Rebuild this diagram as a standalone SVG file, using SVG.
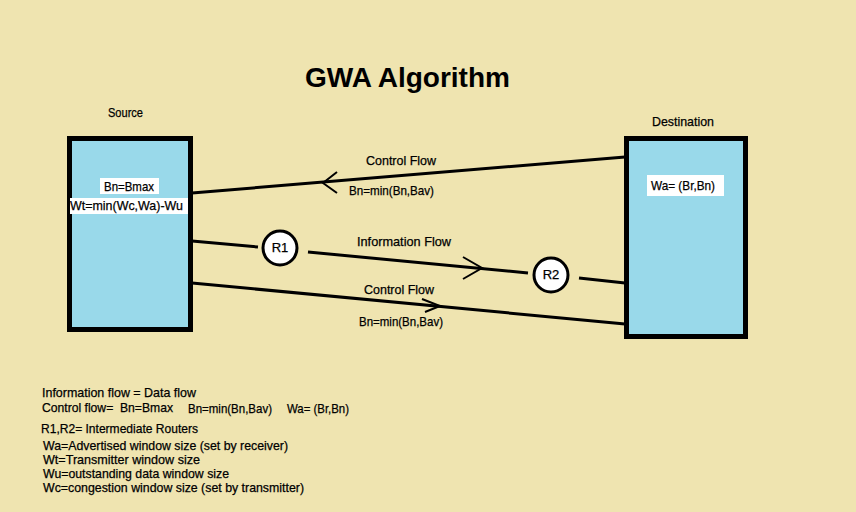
<svg xmlns="http://www.w3.org/2000/svg" width="856" height="512" viewBox="0 0 856 512">
<style>
text{font-family:"Liberation Sans",Arial,sans-serif;fill:#000;font-size:13px;white-space:pre;stroke:#000;stroke-width:0.25}
.t{font-size:27px;font-weight:bold;stroke:none}
.box{fill:#99D9EA;stroke:#000;stroke-width:5}
.lbl{fill:#fff}
.ln{stroke:#000;stroke-width:3;fill:none;stroke-linecap:butt}
.ar{stroke:#000;stroke-width:2;fill:none}
.rt{fill:#fff;stroke:#000;stroke-width:3}
.c{text-anchor:middle}
</style>
<rect width="856" height="512" fill="#EFE4B0"/>
<text class="t" x="305" y="87" textLength="205" lengthAdjust="spacingAndGlyphs">GWA Algorithm</text>
<g id="source">
<text x="108" y="117" textLength="35" lengthAdjust="spacingAndGlyphs">Source</text>
<rect class="box" x="69.5" y="138.5" width="121" height="191"/>
<rect class="lbl" x="100" y="178" width="59" height="16"/>
<text x="104" y="191" textLength="50" lengthAdjust="spacingAndGlyphs">Bn=Bmax</text>
<rect class="lbl" x="70" y="198" width="118" height="16"/>
<text x="70" y="210" textLength="113" lengthAdjust="spacingAndGlyphs">Wt=min(Wc,Wa)-Wu</text>
</g>
<g id="destination">
<text x="652" y="126" textLength="62" lengthAdjust="spacingAndGlyphs">Destination</text>
<rect class="box" x="626.5" y="138.5" width="119" height="198"/>
<rect class="lbl" x="647" y="175" width="77" height="21"/>
<text x="651" y="190" textLength="64" lengthAdjust="spacingAndGlyphs">Wa= (Br,Bn)</text>
</g>
<g id="R1">
<circle class="rt" cx="280" cy="248" r="17"/>
<text class="c" x="280" y="252">R1</text>
</g>
<g id="R2">
<circle class="rt" cx="551" cy="275" r="17"/>
<text class="c" x="551" y="279">R2</text>
</g>
<g id="connectors">
<line class="ln" x1="192" y1="193" x2="625" y2="157"/>
<polyline class="ar" points="337,172 323,183 337,193"/>
<line class="ln" x1="192" y1="241" x2="258" y2="247"/>
<line class="ln" x1="308" y1="252" x2="528" y2="273"/>
<polyline class="ar" points="463,257 482,268 463,279"/>
<line class="ln" x1="579" y1="278" x2="625" y2="283"/>
<line class="ln" x1="192" y1="283" x2="625" y2="324"/>
<polyline class="ar" points="422,299 440,306 425,312"/>
</g>
<g id="labels">
<text x="366" y="165" textLength="70" lengthAdjust="spacingAndGlyphs">Control Flow</text>
<text x="349" y="195" textLength="85" lengthAdjust="spacingAndGlyphs">Bn=min(Bn,Bav)</text>
<text x="357" y="246" textLength="94" lengthAdjust="spacingAndGlyphs">Information Flow</text>
<text x="364" y="294" textLength="70" lengthAdjust="spacingAndGlyphs">Control Flow</text>
<text x="359" y="326" textLength="84" lengthAdjust="spacingAndGlyphs">Bn=min(Bn,Bav)</text>
</g>
<g id="legend">
<text x="42" y="397" textLength="154" lengthAdjust="spacingAndGlyphs">Information flow = Data flow</text>
<text x="42" y="412" textLength="131" lengthAdjust="spacingAndGlyphs">Control flow=  Bn=Bmax</text>
<text x="188" y="413" textLength="84" lengthAdjust="spacingAndGlyphs">Bn=min(Bn,Bav)</text>
<text x="287" y="413" textLength="62" lengthAdjust="spacingAndGlyphs">Wa= (Br,Bn)</text>
<text x="41" y="433" textLength="157" lengthAdjust="spacingAndGlyphs">R1,R2= Intermediate Routers</text>
<text x="43" y="450" textLength="245" lengthAdjust="spacingAndGlyphs">Wa=Advertised window size (set by receiver)</text>
<text x="43" y="464" textLength="157" lengthAdjust="spacingAndGlyphs">Wt=Transmitter window size</text>
<text x="43" y="478" textLength="186" lengthAdjust="spacingAndGlyphs">Wu=outstanding data window size</text>
<text x="43" y="492" textLength="261" lengthAdjust="spacingAndGlyphs">Wc=congestion window size (set by transmitter)</text>
</g>
</svg>
